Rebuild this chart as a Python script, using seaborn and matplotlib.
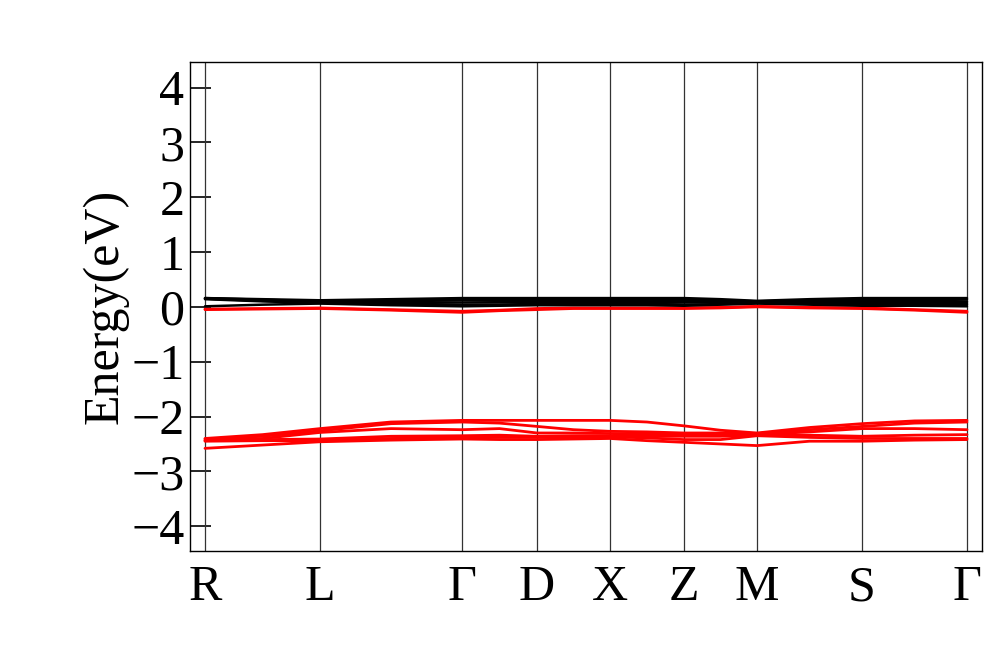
import numpy as np
import pandas as pd
import matplotlib
matplotlib.use("Agg")
import matplotlib.pyplot as plt
import seaborn as sns

# high-symmetry points along the path
hs_labels = ["R", "L", "Γ", "D", "X", "Z", "M", "S", "Γ"]
hs_k = [0.0, 1.15, 2.57, 3.32, 4.05, 4.79, 5.52, 6.57, 7.62]

# k grid: high-symmetry points and the midpoints between them
k_grid = [0.0, 0.575, 1.15, 1.86, 2.57, 2.945, 3.32, 3.685, 4.05,
          4.42, 4.79, 5.155, 5.52, 6.045, 6.57, 7.095, 7.62]

# black bands near the Fermi level (eV)
black_bands = [
    [0.16, 0.14, 0.12, 0.14, 0.16, 0.16, 0.16, 0.16, 0.16, 0.16, 0.16, 0.14, 0.11, 0.14, 0.16, 0.16, 0.16],
    [0.16, 0.13, 0.10, 0.12, 0.14, 0.14, 0.13, 0.13, 0.13, 0.13, 0.14, 0.12, 0.10, 0.12, 0.14, 0.14, 0.14],
    [0.15, 0.12, 0.09, 0.10, 0.12, 0.11, 0.10, 0.10, 0.10, 0.10, 0.11, 0.10, 0.09, 0.10, 0.11, 0.11, 0.10],
    [0.15, 0.11, 0.08, 0.08, 0.08, 0.08, 0.07, 0.07, 0.07, 0.07, 0.08, 0.08, 0.08, 0.08, 0.08, 0.08, 0.07],
    [0.14, 0.10, 0.07, 0.06, 0.04, 0.04, 0.04, 0.05, 0.05, 0.05, 0.04, 0.05, 0.07, 0.06, 0.05, 0.05, 0.04],
    [0.01, 0.04, 0.06, 0.03, 0.01, 0.02, 0.03, 0.03, 0.03, 0.03, 0.02, 0.04, 0.06, 0.04, 0.02, 0.02, 0.01],
]

# red bands just below the Fermi level
red_top_bands = [
    [-0.04, -0.03, -0.02, -0.05, -0.08, -0.06, -0.03, -0.02, -0.02, -0.02, -0.02, -0.01, 0.01, -0.01, -0.02, -0.05, -0.08],
    [-0.05, -0.04, -0.03, -0.06, -0.10, -0.07, -0.05, -0.03, -0.03, -0.03, -0.03, -0.02, 0.00, -0.02, -0.03, -0.06, -0.10],
]

# red bands around -2.3 eV
red_low_bands = [
    [-2.40, -2.33, -2.22, -2.10, -2.07, -2.07, -2.07, -2.07, -2.07, -2.10, -2.17, -2.25, -2.30, -2.20, -2.13, -2.08, -2.07],
    [-2.41, -2.36, -2.26, -2.13, -2.10, -2.12, -2.18, -2.24, -2.27, -2.28, -2.30, -2.30, -2.31, -2.24, -2.18, -2.12, -2.10],
    [-2.43, -2.40, -2.29, -2.22, -2.24, -2.22, -2.30, -2.30, -2.31, -2.32, -2.33, -2.33, -2.33, -2.28, -2.22, -2.22, -2.24],
    [-2.44, -2.42, -2.41, -2.36, -2.35, -2.34, -2.36, -2.35, -2.35, -2.36, -2.36, -2.36, -2.34, -2.34, -2.36, -2.34, -2.33],
    [-2.45, -2.44, -2.44, -2.40, -2.38, -2.38, -2.38, -2.38, -2.37, -2.39, -2.42, -2.42, -2.35, -2.38, -2.40, -2.40, -2.40],
    [-2.58, -2.52, -2.46, -2.43, -2.41, -2.42, -2.42, -2.41, -2.40, -2.44, -2.47, -2.50, -2.53, -2.45, -2.45, -2.43, -2.42],
]


def to_long(bands, group):
    rows = []
    for i, b in enumerate(bands):
        for k, e in zip(k_grid, b):
            rows.append({"k": k, "E": e, "band": f"{group}{i}"})
    return pd.DataFrame(rows)


sns.set_style("ticks")
plt.rcParams["font.family"] = ["Liberation Serif", "DejaVu Serif"]
plt.rcParams["text.color"] = "black"
plt.rcParams["axes.labelcolor"] = "black"
plt.rcParams["xtick.color"] = "black"
plt.rcParams["ytick.color"] = "black"

fig = plt.figure(figsize=(10, 6.71), dpi=100)
ax = fig.add_axes([0.19, 0.179, 0.792, 0.729])

for x in hs_k:
    ax.axvline(x, color="#333333", lw=0.9, zorder=1)

sns.lineplot(data=to_long(red_low_bands, "rl"), x="k", y="E", units="band",
             estimator=None, color="#ff0000", lw=2.0, ax=ax, zorder=3)
sns.lineplot(data=to_long(red_top_bands, "rt"), x="k", y="E", units="band",
             estimator=None, color="#ff0000", lw=2.0, ax=ax, zorder=3)
sns.lineplot(data=to_long(black_bands, "b"), x="k", y="E", units="band",
             estimator=None, color="black", lw=1.8, ax=ax, zorder=4)

ax.set_xlim(-0.15, 7.77)
ax.set_ylim(-4.45, 4.47)
ax.set_xticks(hs_k)
ax.set_xticklabels(hs_labels)
ax.set_yticks(range(-4, 5))
ax.tick_params(axis="x", length=0, labelsize=36, pad=10)
ax.tick_params(axis="y", direction="in", length=15, width=1.2, labelsize=36, pad=4)
ax.set_xlabel("")
ax.set_ylabel("Energy(eV)", fontsize=36, labelpad=2)
for s in ax.spines.values():
    s.set_linewidth(1.0)
    s.set_color("black")

fig.savefig("out.png", dpi=100)
